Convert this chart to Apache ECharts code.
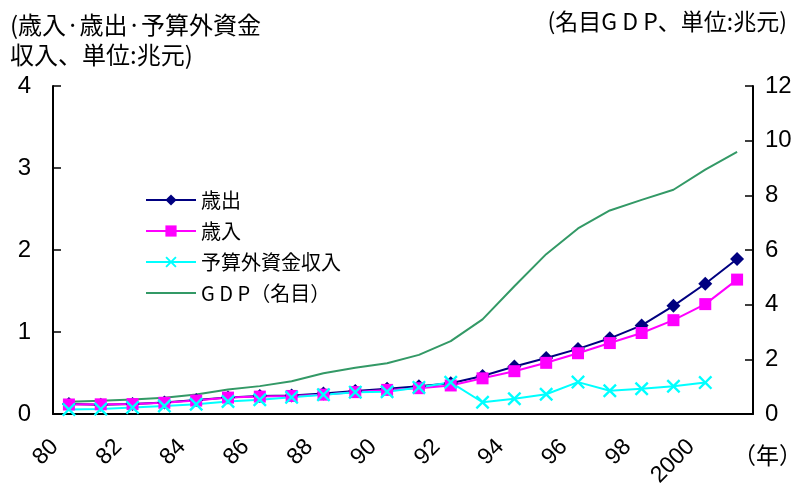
<!DOCTYPE html>
<html>
<head>
<meta charset="utf-8">
<script src="https://cdn.jsdelivr.net/npm/echarts@6/dist/echarts.min.js"></script>
<style>html,body{margin:0;padding:0;background:#fff;}#c{width:808px;height:483px;}</style>
</head>
<body>
<div id="c"></div>
<script>
const years = ['80','81','82','83','84','85','86','87','88','89','90','91','92','93','94','95','96','97','98','99','2000','01'];
const expenditure = [0.123,0.114,0.123,0.141,0.170,0.200,0.221,0.226,0.249,0.282,0.308,0.339,0.374,0.464,0.579,0.682,0.794,0.923,1.080,1.319,1.589,1.890];
const revenue = [0.116,0.118,0.121,0.137,0.164,0.200,0.212,0.220,0.236,0.267,0.294,0.315,0.348,0.435,0.522,0.624,0.741,0.865,0.988,1.144,1.340,1.639];
const extraBudget = [0.056,0.060,0.080,0.097,0.119,0.153,0.174,0.203,0.236,0.266,0.271,0.324,0.386,0.143,0.186,0.241,0.389,0.283,0.308,0.339,0.383,null];
const gdp = [0.452,0.486,0.530,0.594,0.717,0.896,1.020,1.196,1.493,1.691,1.855,2.162,2.664,3.463,4.676,5.848,6.789,7.446,7.835,8.205,8.940,9.593];
const leftTicks = [0,1,2,3,4];
const rightTicks = [0,2,4,6,8,10,12];

const crossPath = 'path://M0,1.2L1.2,0L5,3.8L8.8,0L10,1.2L6.2,5L10,8.8L8.8,10L5,6.2L1.2,10L0,8.8L3.8,5Z';
const cjk = '"Noto Sans CJK JP", sans-serif';
const num = '"Liberation Sans", Arial, sans-serif';

const chart = echarts.init(document.getElementById('c'), null, {renderer:'canvas'});
chart.setOption({
  animation: false,
  backgroundColor: '#fff',
  grid: {left: 53, right: 55, top: 86, bottom: 69, containLabel: false, outerBoundsMode: 'none'},
  legend: {
    orient: 'vertical', left: 145, top: 190, padding: 0,
    itemWidth: 50, itemHeight: 14, itemGap: 11,
    textStyle: {fontFamily: cjk, fontSize: 20, lineHeight: 20, color: '#000'},
    data: ['歳出','歳入','予算外資金収入', {name:'G D P（名目）', itemStyle:{opacity:0}}]
  },
  graphic: [
    {type:'text', left: 10, top: 10, style:{text:'(歳入·歳出·予算外資金\n収入、単位:兆元)', fontFamily: cjk, fontSize: 24, lineHeight: 30, fill:'#000'}},
    {type:'text', right: 21, top: 10, style:{text:'(名目G D P、単位:兆元)', fontFamily: cjk, fontSize: 23, fill:'#000'}},
    {type:'text', left: 733, top: 444, style:{text:'（年）', fontFamily: cjk, fontSize: 23, fill:'#000'}}
  ],
  xAxis: {
    type: 'category', data: years, boundaryGap: true,
    axisLine: {lineStyle:{color:'#000', width: 2}},
    axisTick: {inside: true, length: 7, interval: 0, lineStyle:{color:'#000', width: 1.5}},
    axisLabel: {interval: 1, rotate: 45, margin: 15, padding: [0, 20, 0, 0], fontFamily: num, fontSize: 23, color: '#000'},
    splitLine: {show: false}
  },
  yAxis: [
    {type:'value', min: leftTicks[0], max: leftTicks[leftTicks.length-1], interval: 1,
     axisLine:{show:true, lineStyle:{color:'#000', width:2}},
     axisTick:{show:true, inside:true, length:8, lineStyle:{color:'#000', width:1.5}},
     axisLabel:{margin: 22, fontFamily: num, fontSize: 24, color:'#000'},
     splitLine:{show:false}},
    {type:'value', min: rightTicks[0], max: rightTicks[rightTicks.length-1], interval: 2, position:'right',
     axisLine:{show:true, lineStyle:{color:'#000', width:2}},
     axisTick:{show:true, inside:true, length:8, lineStyle:{color:'#000', width:1.5}},
     axisLabel:{margin: 12, fontFamily: num, fontSize: 24, color:'#000'},
     splitLine:{show:false}}
  ],
  series: [
    {name:'G D P（名目）', type:'line', yAxisIndex:1, data: gdp, symbol:'none',
     lineStyle:{color:'#339966', width:2}, itemStyle:{color:'#339966'}},
    {name:'歳出', type:'line', data: expenditure, symbol:'diamond', symbolSize: 14,
     lineStyle:{color:'#000080', width:2}, itemStyle:{color:'#000080'}},
    {name:'歳入', type:'line', data: revenue, symbol:'rect', symbolSize: 12,
     lineStyle:{color:'#FF00FF', width:2}, itemStyle:{color:'#FF00FF'}},
    {name:'予算外資金収入', type:'line', data: extraBudget, symbol: crossPath, symbolSize: 14,
     lineStyle:{color:'#00FFFF', width:2}, itemStyle:{color:'#00FFFF'}}
  ]
});
</script>
</body>
</html>
